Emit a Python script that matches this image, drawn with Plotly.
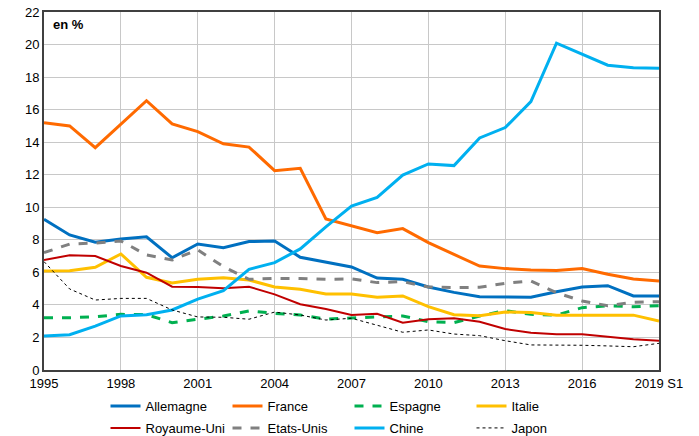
import plotly.graph_objects as go

periods = [str(y) for y in range(1995, 2019)] + ["2019 S1"]

allemagne = [9.26, 8.3, 7.85, 8.05, 8.19, 6.9, 7.74, 7.52, 7.89, 7.93, 6.93, 6.62, 6.33, 5.65, 5.57, 5.1,
             4.77, 4.5, 4.47, 4.47, 4.81, 5.1, 5.18, 4.55, 4.55]
france = [15.2, 15.0, 13.66, 15.1, 16.55, 15.12, 14.65, 13.9, 13.7, 12.25, 12.4, 9.28, 8.87, 8.44, 8.69, 7.83,
          7.1, 6.39, 6.23, 6.15, 6.12, 6.23, 5.88, 5.59, 5.47]
espagne = [3.21, 3.21, 3.27, 3.42, 3.4, 2.91, 3.12, 3.32, 3.63, 3.48, 3.38, 3.12, 3.2, 3.27, 3.32, 2.97,
           2.91, 3.32, 3.65, 3.42, 3.38, 3.83, 3.95, 3.89, 3.95]
italie = [6.08, 6.1, 6.31, 7.13, 5.7, 5.35, 5.57, 5.67, 5.53, 5.1, 4.96, 4.67, 4.67, 4.47, 4.55, 3.89,
          3.4, 3.34, 3.56, 3.54, 3.37, 3.37, 3.34, 3.37, 3.01]
royaume_uni = [6.76, 7.05, 7.0, 6.39, 5.98, 5.12, 5.1, 5.02, 5.12, 4.65, 4.04, 3.75, 3.38, 3.46, 2.91, 3.12,
               3.18, 2.97, 2.52, 2.29, 2.19, 2.19, 2.05, 1.89, 1.8]
etats_unis = [7.21, 7.74, 7.8, 7.93, 7.07, 6.76, 7.38, 6.35, 5.57, 5.63, 5.63, 5.57, 5.6, 5.37, 5.43, 5.1,
              5.06, 5.08, 5.33, 5.47, 4.75, 4.24, 3.95, 4.16, 4.2]
chine = [2.09, 2.17, 2.7, 3.32, 3.4, 3.69, 4.36, 4.87, 6.19, 6.6, 7.44, 8.8, 10.08, 10.61, 11.98, 12.66,
         12.56, 14.26, 14.9, 16.49, 20.08, 19.4, 18.73, 18.58, 18.54]
japon = [6.66, 4.98, 4.3, 4.4, 4.4, 3.69, 3.26, 3.24, 3.12, 3.56, 3.38, 3.07, 3.18, 2.77, 2.32, 2.46,
         2.21, 2.11, 1.8, 1.54, 1.54, 1.52, 1.48, 1.43, 1.64]

# name, values, colour, width, dash, legend row
series = [
    ("Allemagne", allemagne, "#0070C0", 3, "solid", "legend"),
    ("France", france, "#FF6A00", 3, "solid", "legend"),
    ("Espagne", espagne, "#00B050", 3, "dash", "legend"),
    ("Italie", italie, "#FFC000", 3, "solid", "legend"),
    ("Royaume-Uni", royaume_uni, "#C00000", 2, "solid", "legend2"),
    ("Etats-Unis", etats_unis, "#808080", 3, "dash", "legend2"),
    ("Chine", chine, "#00B0F0", 3, "solid", "legend2"),
    ("Japon", japon, "#000000", 1, "dot", "legend2"),
]

fig = go.Figure()
for name, vals, col, w, dash, leg in series:
    fig.add_trace(go.Scatter(x=periods, y=vals, name=name, mode="lines", legend=leg,
                             line=dict(color=col, width=w, dash=dash)))

legend_style = dict(orientation="h", x=0.1, xanchor="left", yanchor="top",
                    entrywidth=77, entrywidthmode="pixels", font=dict(size=13),
                    itemwidth=30, bgcolor="rgba(0,0,0,0)")

fig.update_layout(
    width=699, height=436,
    margin=dict(l=44, r=40, t=12, b=66, autoexpand=False),
    plot_bgcolor="white", paper_bgcolor="white",
    font=dict(family="Liberation Sans, Arial, sans-serif", size=13, color="#000"),
    legend=dict(y=-0.059, **legend_style),
    legend2=dict(y=-0.120, **legend_style),
    annotations=[dict(text="<b>en %</b>", xref="paper", yref="paper", x=0.011, y=0.992,
                      xanchor="left", yanchor="top", showarrow=False, font=dict(size=13))],
)
fig.update_xaxes(type="category", range=[0, 24], tickmode="array", tickvals=periods[::3],
                 showgrid=True, gridcolor="#c8c8c8", gridwidth=1,
                 showline=True, linecolor="#404040", linewidth=2, mirror=True,
                 ticks="", tickfont=dict(size=13), ticklabeloverflow="allow")
fig.update_yaxes(range=[0, 22], dtick=2, showgrid=True, gridcolor="#c8c8c8", gridwidth=1,
                 showline=True, linecolor="#404040", linewidth=2, mirror=True,
                 ticks="", tickfont=dict(size=13), zeroline=False, ticklabeloverflow="allow")

# drop the default 8px page margin so the figure fills the window, no modebar
fig.write_html("out.html", config={"displayModeBar": False},
               post_script="document.body.style.margin='0px';")
